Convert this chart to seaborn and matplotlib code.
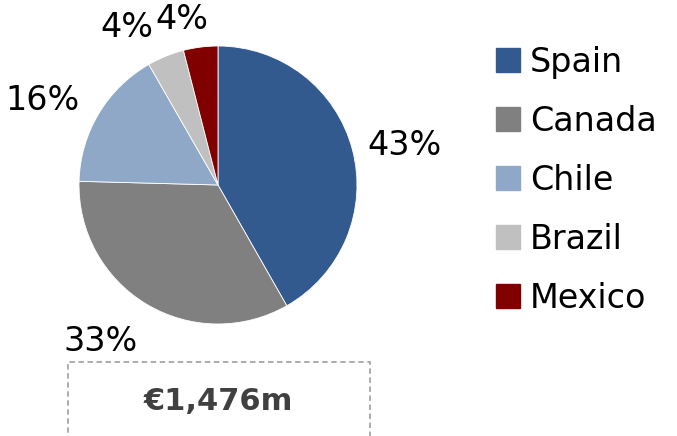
import numpy as np
import matplotlib
matplotlib.use("Agg")
import matplotlib.pyplot as plt
import matplotlib.patches as mpatches
import seaborn as sns

# 数据
countries = ["Spain", "Canada", "Chile", "Brazil", "Mexico"]
shares = [41.8, 33.7, 16.3, 4.3, 4.0]
pct_labels = ["43%", "33%", "16%", "4%", "4%"]
total_label = "€1,476m"
colors = ["#325A8F", "#808080", "#8FA8C8", "#C0C0C0", "#800000"]

sns.set_theme(style="white")
plt.rcParams['font.family'] = ['DejaVu Sans']
plt.rcParams['text.color'] = 'black'

fig = plt.figure(figsize=(6.77, 4.36), dpi=100)
ax = fig.add_axes([0.1167, 0.2569, 0.4106, 0.6376])

wedges, _ = ax.pie(shares, colors=colors, startangle=90, counterclock=False,
                   radius=1.0, wedgeprops=dict(linewidth=0.6, edgecolor="white"))
ax.set_xlim(-1, 1)
ax.set_ylim(-1, 1)
ax.axis("off")

# 百分比标签：按扇区中线角度放置
label_dist = [1.37, 1.41, 1.40, 1.31, 1.22]
angle_nudge = [-3, -6, 5, 8, 5]
for w, txt, d, da in zip(wedges, pct_labels, label_dist, angle_nudge):
    ang = np.deg2rad((w.theta1 + w.theta2) / 2 + da)
    ax.text(d * np.cos(ang), d * np.sin(ang), txt, ha="center", va="center",
            fontsize=24, color="black", clip_on=False)

# 图例
handles = [mpatches.Patch(color=c) for c in colors]
leg = fig.legend(handles, countries, loc="upper left",
                 bbox_to_anchor=(496 / 677, 1 - 46 / 436), frameon=False,
                 fontsize=24, handlelength=0.72, handleheight=0.72,
                 handletextpad=0.3, labelspacing=0.78, borderpad=0, borderaxespad=0)
for t in leg.get_texts():
    t.set_color("black")

# 虚线框和总额
box = mpatches.Rectangle((68 / 677, -0.1), (370 - 68) / 677, 0.1 + (436 - 362) / 436,
                         transform=fig.transFigure, fill=False, edgecolor="#A6A6A6",
                         linestyle=(0, (3, 2)), linewidth=1.3)
fig.patches.append(box)
fig.text(218 / 677, 1 - 401 / 436, total_label, ha="center", va="center",
         fontsize=22, fontweight="bold", color="#404040")

fig.savefig("out.png", dpi=100)
